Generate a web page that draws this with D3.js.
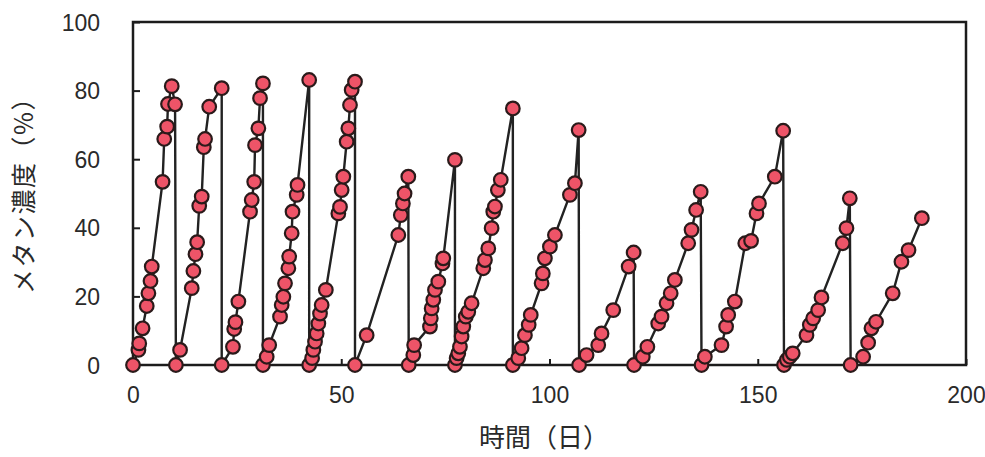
<!DOCTYPE html>
<html>
<head>
<meta charset="utf-8">
<script src="https://cdn.jsdelivr.net/npm/d3@7"></script>
<style>
  body { margin: 0; background: #fff; }
  svg { display: block; }
</style>
</head>
<body>
<div id="chart"></div>
<script>
// methane concentration over repeated batch runs (day, %)
const days = [
  0, 1.3, 1.5, 2.3, 3.3, 3.7, 4.2, 4.5, 7.1, 7.5, 8.2, 8.4, 9.3, 10.1, 10.3,
  11.3, 14.1, 14.5, 15.0, 15.4, 15.9, 16.5, 17.0, 17.3, 18.3, 21.3, 21.3,
  24.0, 24.3, 24.6, 25.3, 28.1, 28.5, 29.1, 29.3, 30.1, 30.5, 31.2, 31.2,
  32.1, 32.7, 35.3, 35.7, 36.1, 36.5, 37.3, 37.5, 38.1, 38.3, 39.3, 39.5, 42.3, 42.3,
  43.0, 43.3, 43.7, 44.1, 44.5, 44.9, 45.3, 46.3, 49.3, 49.7, 50.1, 50.5, 51.3, 51.7, 52.1, 52.5, 53.3, 53.3,
  56.1, 63.7, 64.3, 64.8, 65.2, 66.1, 66.2,
  67.3, 67.5, 71.3, 71.5, 71.7, 72.1, 72.5, 73.3, 74.3, 74.5, 77.3, 77.3,
  77.7, 78.1, 78.5, 78.9, 79.3, 79.9, 80.5, 81.3, 84.1, 84.5, 85.3, 86.1, 86.5, 86.9, 87.6, 88.3, 91.2, 91.2,
  92.5, 93.3, 94.1, 95.0, 95.5, 98.1, 98.4, 98.9, 100.1, 101.3, 104.9, 106.1, 107.0, 107.1,
  108.9, 111.7, 112.5, 115.3, 119.0, 120.2, 120.3,
  122.4, 123.5, 126.1, 126.9, 128.1, 129.1, 130.1, 133.3, 134.1, 135.2, 136.3, 136.5,
  137.3, 141.3, 142.4, 142.9, 144.5, 147.0, 148.4, 149.7, 150.3, 154.1, 156.1, 156.3,
  157.0, 157.7, 158.4, 161.7, 162.5, 163.3, 164.5, 165.3, 170.4, 171.3, 172.1, 172.3,
  175.3, 176.5, 177.3, 178.4, 182.4, 184.5, 186.2, 189.4
]
const methane = [
  0, 4.4, 6.3, 10.7, 17.2, 20.9, 24.5, 28.7, 53.4, 65.9, 69.5, 76.1, 81.3, 76, 0,
  4.4, 22.4, 27.4, 32.3, 35.8, 46.4, 49.1, 63.5, 65.9, 75.3, 80.7, 0,
  5.3, 10.5, 12.5, 18.5, 44.7, 48.1, 53.4, 64.1, 69, 77.8, 82.1, 0,
  2.4, 5.8, 14.1, 17.5, 19.9, 23.8, 28.2, 31.6, 38.4, 44.7, 49.6, 52.5, 83.1, 0,
  2.0, 4.4, 6.8, 9.2, 12.1, 15, 17.5, 21.9, 44.2, 46.1, 51, 54.9, 65.1, 69, 75.8, 80.2, 82.6, 0,
  8.7, 37.9, 43.7, 47.1, 50, 54.9, 0,
  2.9, 5.8, 11.2, 13.6, 16.5, 19, 21.9, 24.3, 29.6, 31.1, 59.8, 0,
  2, 3.4, 5.3, 8.3, 11.2, 14.1, 15.5, 18, 28.2, 30.6, 34, 39.9, 44.7, 46.2, 51, 54, 74.8, 0,
  2, 4.9, 8.7, 11.7, 14.6, 23.8, 26.7, 31.1, 34.5, 37.9, 49.6, 53, 68.5, 0,
  2.9, 5.8, 9.2, 16, 28.7, 32.8, 0,
  2.4, 5.3, 12.1, 14.1, 18, 20.9, 24.8, 35.5, 39.4, 45.2, 50.5, 0,
  2.4, 5.8, 11.2, 14.6, 18.5, 35.5, 36.2, 44.2, 47.1, 54.9, 68.3, 0,
  1.5, 2.4, 3.4, 8.7, 11.7, 13.6, 16, 19.7, 35.5, 39.9, 48.6, 0,
  2.4, 6.5, 10.7, 12.6, 20.9, 30.1, 33.5, 42.8
]
const xTicks = [0, 50, 100, 150, 200]
const yTicks = [0, 20, 40, 60, 80, 100]
const xTitle = "時間（日）"
const yTitle = "メタン濃度（%）"

const w = 985
const h = 457
const margin = {left: 133, right: 19, top: 22, bottom: 92}

const points = days.map((d, i) => ({day: d, value: methane[i]}))

const svg = d3.select("#chart")
  .append("svg")
  .attr("width", w)
  .attr("height", h)

const xScale = d3.scaleLinear()
  .domain([0, 200])
  .range([margin.left, w - margin.right])

const yScale = d3.scaleLinear()
  .domain([0, 100])
  .range([h - margin.bottom, margin.top])

// frame
svg.append("rect")
  .attr("x", xScale(0))
  .attr("y", yScale(100))
  .attr("width", xScale(200) - xScale(0))
  .attr("height", yScale(0) - yScale(100))
  .attr("fill", "none")
  .attr("stroke", "#1c1c1c")
  .attr("stroke-width", 2.5)

// axes (inner ticks)
const xAxis = d3.axisBottom(xScale)
  .tickValues(xTicks)
  .tickSizeInner(-6)
  .tickSizeOuter(0)
  .tickPadding(22)

const yAxis = d3.axisLeft(yScale)
  .tickValues(yTicks)
  .tickSizeInner(-7)
  .tickSizeOuter(0)
  .tickPadding(33)

const gx = svg.append("g")
  .attr("transform", `translate(0,${yScale(0)})`)
  .call(xAxis)

const gy = svg.append("g")
  .attr("transform", `translate(${xScale(0)},0)`)
  .call(yAxis)

;[gx, gy].forEach(g => {
  g.select(".domain").remove()
  g.selectAll(".tick line").attr("stroke", "#1c1c1c").attr("stroke-width", 2)
  g.selectAll(".tick text")
    .attr("fill", "#2a2a2a")
    .style("font-family", "'Liberation Sans', Arial, sans-serif")
    .style("font-size", "23px")
})
gx.selectAll(".tick text").attr("dy", "0.71em")
gy.selectAll(".tick text").attr("dy", "0.35em")

// titles
svg.append("text")
  .attr("x", 544)
  .attr("y", 447)
  .attr("text-anchor", "middle")
  .style("font-family", "'Noto Sans CJK JP', sans-serif")
  .style("font-size", "26px")
  .attr("fill", "#2a2a2a")
  .text(xTitle)

svg.append("text")
  .attr("transform", "translate(33,189) rotate(-90)")
  .attr("text-anchor", "middle")
  .style("font-family", "'Noto Sans CJK JP', sans-serif")
  .style("font-size", "25px")
  .style("letter-spacing", "1.5px")
  .attr("fill", "#2a2a2a")
  .text(yTitle)

// series line
const line = d3.line()
  .x(d => xScale(d.day))
  .y(d => yScale(d.value))

svg.append("path")
  .datum(points)
  .attr("d", line)
  .attr("fill", "none")
  .attr("stroke", "#222")
  .attr("stroke-width", 2.4)

svg.selectAll("circle")
  .data(points)
  .join("circle")
  .attr("cx", d => xScale(d.day))
  .attr("cy", d => yScale(d.value))
  .attr("r", 6.8)
  .attr("fill", "#ee5468")
  .attr("stroke", "#2a1a1a")
  .attr("stroke-width", 2.2)
</script>
</body>
</html>
